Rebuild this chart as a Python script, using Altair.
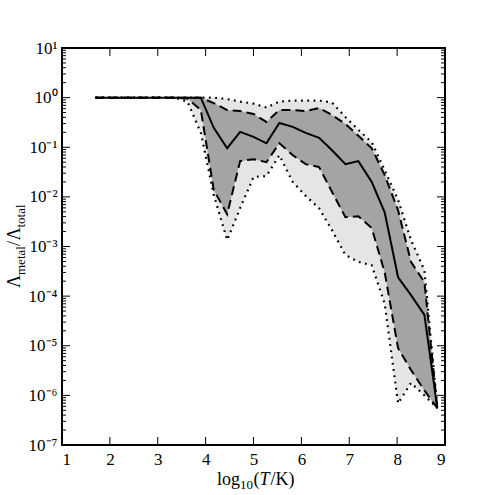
import altair as alt
import pandas as pd

# log10(T/K) sample positions
x = [1.70, 1.97, 2.25, 2.52, 2.80, 3.07, 3.35, 3.62, 3.90, 4.17, 4.45, 4.72, 5.00, 5.27,
     5.54, 5.82, 6.09, 6.37, 6.64, 6.92, 7.19, 7.47, 7.74, 8.02, 8.29, 8.57, 8.84]
# log10 of Lambda_metal / Lambda_total
log_med = [0, 0, 0, 0, 0, 0, 0, 0, 0, -0.61, -1.02, -0.69, -0.79, -0.92, -0.51, -0.59, -0.71,
           -0.81, -1.06, -1.34, -1.28, -1.70, -2.31, -3.62, -3.98, -4.38, -6.26]
log_q3 = [0, 0, 0, 0, 0, 0, 0, 0, 0, -0.11, -0.25, -0.27, -0.33, -0.49, -0.25, -0.25, -0.27,
          -0.21, -0.35, -0.53, -0.77, -1.02, -1.56, -2.27, -3.31, -3.72, -6.26]
log_q1 = [0, 0, 0, 0, 0, 0, 0, -0.02, -0.25, -1.86, -2.35, -1.28, -1.24, -1.30, -0.92, -1.16,
          -1.34, -1.40, -1.90, -2.41, -2.39, -2.63, -3.52, -5.05, -5.49, -5.90, -6.26]
log_max = [0, 0, 0, 0, 0, 0, 0, 0, 0, 0, -0.03, -0.08, -0.12, -0.20, -0.08, -0.06, -0.06,
           -0.06, -0.10, -0.39, -0.65, -0.90, -1.46, -2.06, -2.87, -3.48, -6.26]
log_min = [0, 0, 0, 0, 0, 0, 0, -0.08, -0.71, -1.96, -2.87, -2.23, -1.60, -1.58, -1.16, -1.70,
           -1.98, -2.23, -2.67, -3.17, -3.31, -3.38, -4.15, -6.16, -5.75, -6.00, -6.26]

x_ticks = [1, 2, 3, 4, 5, 6, 7, 8, 9]
y_exps = [-7, -6, -5, -4, -3, -2, -1, 0, 1]
sup = {"-": "⁻", "0": "⁰", "1": "¹", "2": "²", "3": "³", "4": "⁴", "5": "⁵", "6": "⁶", "7": "⁷"}

W, H = 383, 397
FONT = "Liberation Serif"
BIG, SMALL = 18, 13

df = pd.DataFrame({
    "x": x,
    "med": [10 ** v for v in log_med],
    "q3": [10 ** v for v in log_q3],
    "q1": [10 ** v for v in log_q1],
    "mx": [10 ** v for v in log_max],
    "mn": [10 ** v for v in log_min],
})

xs = alt.Scale(domain=[1, 9], nice=False, zero=False)
ys = alt.Scale(type="log", domain=[1e-7, 10], nice=False)

expr = "''"
for e in y_exps:
    lab = "10" + "".join(sup[c] for c in str(e))
    expr = f"(abs(log(datum.value)/log(10) - ({e})) < 0.01) ? '{lab}' : " + expr

base = alt.Chart(df)

light = base.mark_area(color="#e5e5e5", opacity=1).encode(
    x=alt.X("x:Q", scale=xs, axis=alt.Axis(values=x_ticks, format="d", ticks=False, domain=False,
                                           grid=False, labelPadding=6, labelFontSize=17,
                                           labelFont=FONT, labelColor="black", title=None)),
    y=alt.Y("mn:Q", scale=ys, axis=alt.Axis(values=[10.0 ** e for e in y_exps], labelExpr=expr,
                                            ticks=False, domain=False, grid=False,
                                            labelPadding=5, labelFontSize=17, labelFont=FONT,
                                            labelColor="black", title=None)),
    y2="mx:Q",
)
dark = base.mark_area(color="#a4a4a4", opacity=1).encode(
    x=alt.X("x:Q", scale=xs), y=alt.Y("q1:Q", scale=ys), y2="q3:Q")


def line(col, dash, w):
    kw = dict(color="black", strokeWidth=w, clip=True)
    if dash:
        kw["strokeDash"] = dash
    return base.mark_line(**kw).encode(x=alt.X("x:Q", scale=xs), y=alt.Y(f"{col}:Q", scale=ys))


lines = [
    line("mx", [1.8, 4.5], 2.2),
    line("mn", [1.8, 4.5], 2.2),
    line("q3", [9, 5], 2),
    line("q1", [9, 5], 2),
    line("med", None, 2),
]

# inward ticks
xt = pd.DataFrame({"x": x_ticks[1:-1]})
xb = alt.Chart(xt).mark_rule(color="black", strokeWidth=1).encode(
    x=alt.X("x:Q", scale=xs), y=alt.value(H), y2=alt.value(H - 8))
xtop = alt.Chart(xt).mark_rule(color="black", strokeWidth=1).encode(
    x=alt.X("x:Q", scale=xs), y=alt.value(0), y2=alt.value(8))

major = pd.DataFrame({"y": [10.0 ** e for e in y_exps[1:-1]]})
minor = pd.DataFrame({"y": [k * 10.0 ** e for e in y_exps[:-1] for k in range(2, 10)]})
yl = alt.Chart(major).mark_rule(color="black", strokeWidth=1).encode(
    y=alt.Y("y:Q", scale=ys), x=alt.value(0), x2=alt.value(8))
yr = alt.Chart(major).mark_rule(color="black", strokeWidth=1).encode(
    y=alt.Y("y:Q", scale=ys), x=alt.value(W), x2=alt.value(W - 8))
yml = alt.Chart(minor).mark_rule(color="black", strokeWidth=1).encode(
    y=alt.Y("y:Q", scale=ys), x=alt.value(0), x2=alt.value(4))
ymr = alt.Chart(minor).mark_rule(color="black", strokeWidth=1).encode(
    y=alt.Y("y:Q", scale=ys), x=alt.value(W), x2=alt.value(W - 4))


# axis titles built from pieces (for real subscripts)
def piece(txt, px, py, size, angle=0, italic=False):
    kw = dict(font=FONT, fontSize=size, color="black", align="left", baseline="alphabetic")
    if angle:
        kw["angle"] = angle
    if italic:
        kw["fontStyle"] = "italic"
    return alt.Chart(pd.DataFrame({"t": [txt]})).mark_text(**kw).encode(
        text="t:N", x=alt.value(px), y=alt.value(py))


# y title: Λ_metal / Λ_total (rotated)
yb, ys_ = -42, -37
y0 = 240
ytitle = [
    piece("Λ", yb, y0, BIG, 270),
    piece("metal", ys_, y0 - 13, SMALL, 270),
    piece("/", yb, y0 - 13 - 29, BIG, 270),
    piece("Λ", yb, y0 - 13 - 29 - 5.5, BIG, 270),
    piece("total", ys_, y0 - 13 - 29 - 5.5 - 13, SMALL, 270),
]

# x title: log_10(T/K)
xb0, base_y = 155, 437
xtitle = [
    piece("log", xb0, base_y, BIG),
    piece("10", xb0 + 23, base_y + 4, SMALL),
    piece("(", xb0 + 36.5, base_y, BIG),
    piece("T", xb0 + 42.5, base_y, BIG, italic=True),
    piece("/K)", xb0 + 53.5, base_y, BIG),
]

chart = alt.layer(light, dark, *lines, xb, xtop, yl, yr, yml, ymr, *ytitle, *xtitle).properties(
    width=W, height=H,
    autosize=alt.AutoSizeParams(type="none"),
    padding={"left": 62, "top": 48, "right": 50, "bottom": 50},
    background="white",
).configure_view(stroke="black", strokeWidth=2)

chart.save("out.html", embed_options={"renderer": "svg", "actions": False})
